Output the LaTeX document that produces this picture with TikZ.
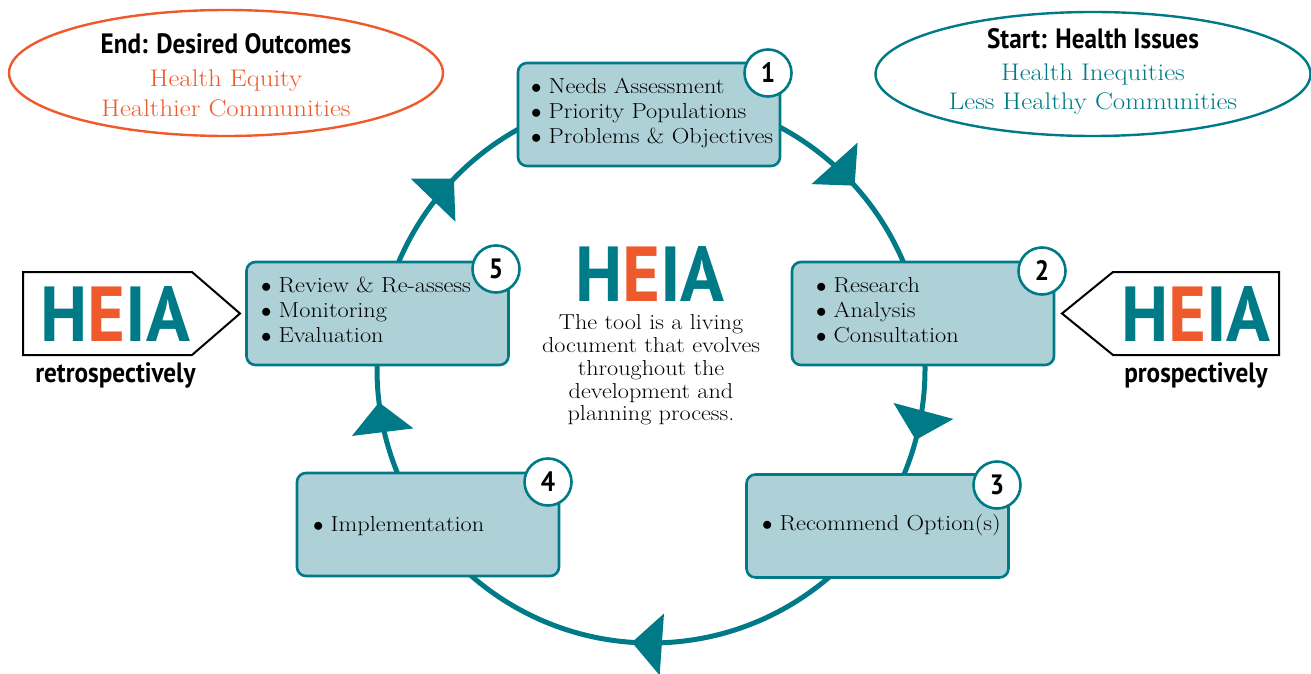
\documentclass[tikz,border=0pt]{standalone}
\usepackage{fontspec}
\usetikzlibrary{shapes.geometric}
\setmainfont{Latin Modern Roman}[FakeStretch=1.12]
\newfontfamily\condsans[FakeStretch=0.9]{PT Sans}
\newfontfamily\logosans[FakeStretch=0.93]{PT Sans}
\definecolor{heiateal}{HTML}{007A87}
\definecolor{heiaorange}{HTML}{EE5A2B}
\definecolor{boxfill}{HTML}{AED0D7}
\newcommand{\heialogo}{{\color{heiateal}H}{\color{heiaorange}E}{\color{heiateal}IA}}
\newcommand{\bul}{\makebox[17.5pt][l]{$\bullet$}}
\tikzset{
  flowtip/.pic={\fill[heiateal] (0,0) -- (-30,31) -- (-30,-31) -- cycle;}
}
\begin{document}
\begin{tikzpicture}[x=1pt,y=1pt,
  stage/.style={draw=heiateal, line width=2.6pt, fill=boxfill, rounded corners=9pt,
    minimum width=262pt, minimum height=103pt, inner sep=0pt},
  badge/.style={circle, draw=heiateal, line width=2.6pt, fill=white, minimum size=47pt,
    inner sep=0pt, font=\condsans\bfseries\fontsize{28}{28}\selectfont},
  items/.style={align=left, anchor=west, inner sep=0pt, font=\fontsize{21.7}{25}\selectfont},
  goal/.style={ellipse, line width=2.4pt, fill=white},
  heading/.style={anchor=base, inner sep=0pt, font=\condsans\bfseries\fontsize{28}{28}\selectfont},
  goalline/.style={anchor=base, inner sep=0pt, font=\fontsize{24}{24}\selectfont},
  logo/.style={anchor=base, inner sep=0pt, text depth=0pt, font=\logosans\bfseries\fontsize{78}{78}\selectfont},
  tagline/.style={anchor=base, inner sep=0pt, font=\condsans\bfseries\fontsize{28}{28}\selectfont},
  tagshape/.style={draw=black, line width=2pt, line join=miter}
]
\useasboundingbox (0,0) rectangle (1311,-674);

% planning cycle
\node[circle, draw=heiateal, line width=5pt, minimum size=548pt, inner sep=0pt] (cyc) at (651,-369) {};
\path (cyc.center) ++(42:274) pic[rotate=-48] {flowtip};
\path (cyc.center) ++(-15:274) pic[rotate=-105] {flowtip};
\path (cyc.center) ++(-94:274) pic[rotate=-184] {flowtip};
\path (cyc.center) ++(187:274) pic[rotate=97] {flowtip};
\path (cyc.center) ++(136:274) pic[rotate=46] {flowtip};

% stages
\node[stage] (s1) at (649,-114.5) {};
\node[stage] (s2) at (923,-313.5) {};
\node[stage] (s3) at (877.5,-526) {};
\node[stage] (s4) at (428,-524.5) {};
\node[stage] (s5) at (377.5,-313.5) {};

\node[items] (t1) at (531,-113) {\bul Needs Assessment\\\bul Priority Populations\\\bul Problems \& Objectives};
\node[items] (t2) at (816,-310) {\bul Research\\\bul Analysis\\\bul Consultation};
\node[items] (t3) at (762,-525) {\bul Recommend Option(s)};
\node[items] (t4) at (313,-526) {\bul Implementation};
\node[items] (t5) at (261,-310) {\bul Review \& Re-assess\\\bul Monitoring\\\bul Evaluation};

\node[badge] (b1) at (768,-73) {1};
\node[badge] (b2) at (1042,-271) {2};
\node[badge] (b3) at (997,-485) {3};
\node[badge] (b4) at (548,-482) {4};
\node[badge] (b5) at (496,-269) {5};

% centre
\node[logo] (mainlogo) at (650,-301) {\heialogo};
\node[align=center, inner sep=0pt, font=\fontsize{21.6}{22.8}\selectfont] (note) at (651,-370)
  {The tool is a living\\document that evolves\\throughout the\\development and\\planning process.};

% outcome and issue ellipses
\node[goal, draw=heiaorange, minimum width=434pt, minimum height=126pt] (endgoal) at (226,-73) {};
\node[heading] (endhead) at (226,-54) {End: Desired Outcomes};
\node[goalline, text=heiaorange] (end1) at (226,-87) {Health Equity};
\node[goalline, text=heiaorange] (end2) at (226,-117) {Healthier Communities};

\node[goal, draw=heiateal, minimum width=435pt, minimum height=124pt] (startgoal) at (1093,-74) {};
\node[heading] (starthead) at (1093,-49) {Start: Health Issues};
\node[goalline, text=heiateal] (start1) at (1093,-81) {Health Inequities};
\node[goalline, text=heiateal] (start2) at (1093,-110) {Less Healthy Communities};

% side tags
\draw[tagshape] (23,-272) -- (192,-272) -- (240,-313.5) -- (192,-355) -- (23,-355) -- cycle;
\node[logo] (leftlogo) at (115.5,-341) {\heialogo};
\node[tagline] (retro) at (115.5,-382) {retrospectively};

\draw[tagshape] (1279,-272) -- (1113,-272) -- (1062,-313.5) -- (1113,-355) -- (1279,-355) -- cycle;
\node[logo] (rightlogo) at (1196,-341) {\heialogo};
\node[tagline] (pro) at (1196,-382) {prospectively};
\end{tikzpicture}
\end{document}
